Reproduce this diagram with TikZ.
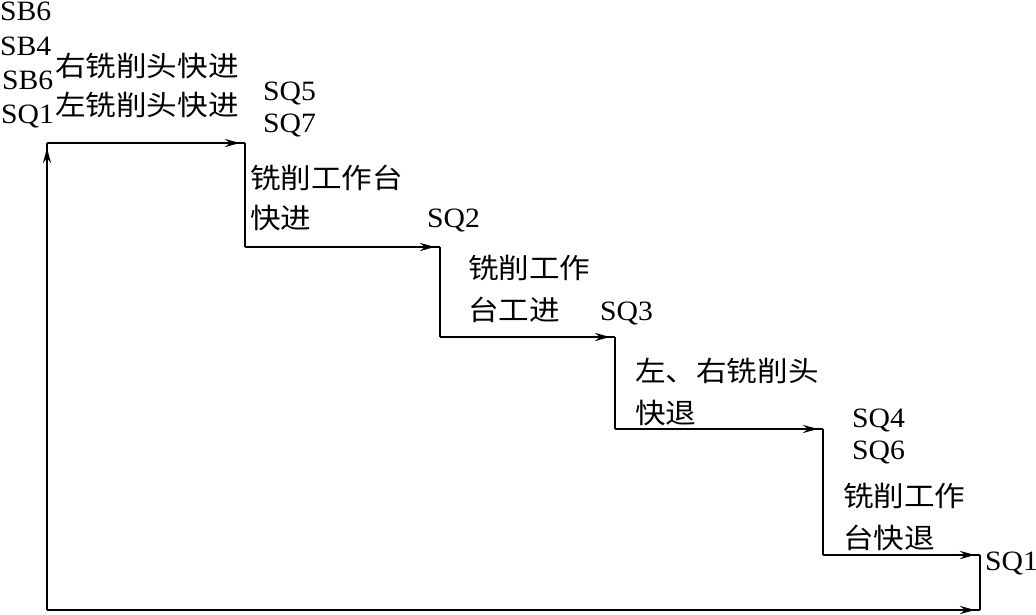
\documentclass[tikz,border=0pt]{standalone}
\usepackage{fontspec}
\setmainfont[FakeStretch=1.06]{Liberation Serif}
\newfontfamily\cjk[FakeStretch=1.1]{Noto Sans CJK SC}
\usetikzlibrary{arrows.meta,decorations.markings}
\begin{document}
\begin{tikzpicture}[x=1pt,y=-1pt,
  lbl/.style={anchor=base west,inner sep=0pt,font=\fontsize{28}{28}\selectfont},
  zh/.style={anchor=base west,inner sep=0pt,font=\cjk\fontsize{27.8}{28}\selectfont},
  flow/.style={line width=2.6pt},
  arr/.style={postaction={decorate},decoration={markings,
     mark=at position -5pt with {\arrow{Stealth[length=15pt,width=8pt,inset=5pt]}}}}]
\useasboundingbox (0,0) rectangle (1036,615);
% corners
\coordinate (c0) at (47,143);
\coordinate (c1) at (245,143);
\coordinate (c2) at (245,247);
\coordinate (c3) at (440,247);
\coordinate (c4) at (440,337);
\coordinate (c5) at (615,337);
\coordinate (c6) at (615,429);
\coordinate (c7) at (823,429);
\coordinate (c8) at (823,555);
\coordinate (c9) at (980,555);
\coordinate (c10) at (980,610);
\coordinate (c11) at (47,610);
% path
\draw[flow,arr] (c0) -- (c1);
\draw[flow] (c1) -- (c2);
\draw[flow,arr] (c2) -- (c3);
\draw[flow] (c3) -- (c4);
\draw[flow,arr] (c4) -- (c5);
\draw[flow] (c5) -- (c6);
\draw[flow,arr] (c6) -- (c7);
\draw[flow] (c7) -- (c8);
\draw[flow,arr] (c8) -- (c9);
\draw[flow] (c9) -- (c10);
\draw[flow,arr] (c11) -- (c10);
\draw[flow,arr] (c11) -- (c0);
% labels
\node[lbl] (sb6a) at (0,21) {SB6};
\node[lbl] (sb4) at (0,56) {SB4};
\node[lbl] (sb6b) at (2,90) {SB6};
\node[lbl] (sq1a) at (1,124) {SQ1};
\node[zh] (t1) at (55,77) {右铣削头快进};
\node[zh] (t2) at (55,116) {左铣削头快进};
\node[lbl] (sq5) at (263,101) {SQ5};
\node[lbl] (sq7) at (263,133) {SQ7};
\node[zh] (t3) at (250,188) {铣削工作台};
\node[zh] (t4) at (250,228) {快进};
\node[lbl] (sq2) at (427,227) {SQ2};
\node[zh] (t5) at (468,278) {铣削工作};
\node[zh] (t6) at (468,320) {台工进};
\node[lbl] (sq3) at (600,320) {SQ3};
\node[zh] (t7) at (635,381) {左、右铣削头};
\node[zh] (t8) at (635,423) {快退};
\node[lbl] (sq4) at (852,427) {SQ4};
\node[lbl] (sq6) at (852,459) {SQ6};
\node[zh] (t9) at (843,506) {铣削工作};
\node[zh] (t10) at (843,548) {台快退};
\node[lbl] (sq1b) at (985,570) {SQ1};
\end{tikzpicture}
\end{document}
